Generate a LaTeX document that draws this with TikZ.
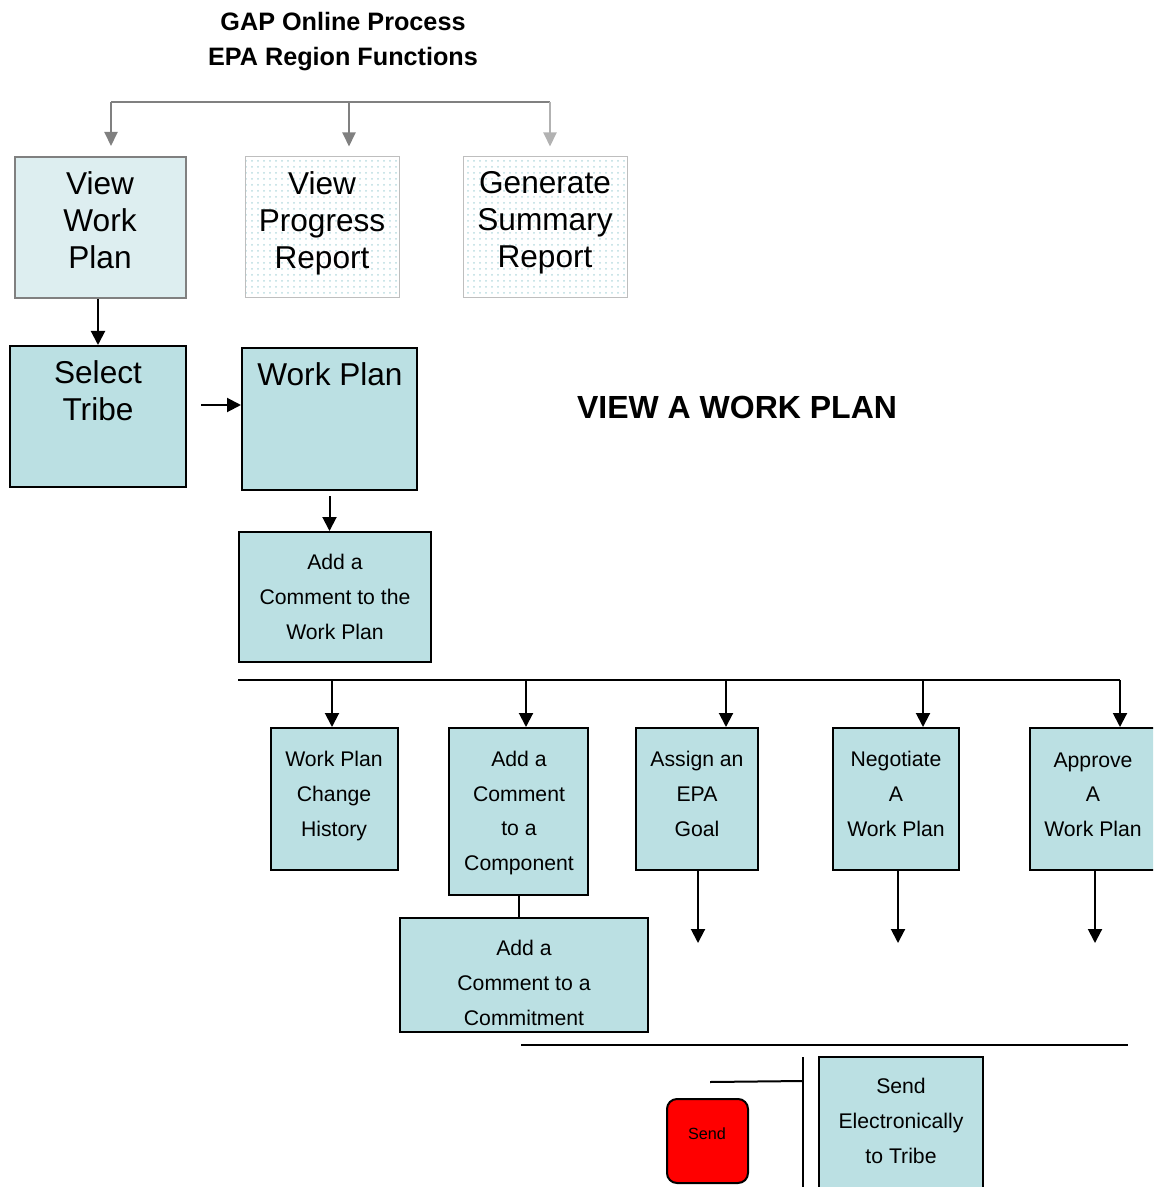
\documentclass[tikz,border=0pt]{standalone}
\usepackage{fontspec}
\setmainfont{Liberation Sans}
\usetikzlibrary{arrows.meta,patterns}
\definecolor{boxteal}{RGB}{187,224,227}
\definecolor{paleteal}{RGB}{221,238,240}
\definecolor{dotteal}{RGB}{185,220,224}
\definecolor{midgray}{RGB}{128,128,128}
\definecolor{lightgray}{RGB}{178,178,178}
\definecolor{framegray}{RGB}{190,190,190}
\definecolor{sendred}{RGB}{255,0,0}

\begin{document}
\begin{tikzpicture}[x=0.5pt,y=-0.5pt,
  box/.style={draw=black,line width=1pt,fill=boxteal,inner sep=0pt},
  dotbox/.style={draw=framegray,line width=0.5pt,pattern=dots,pattern color=dotteal,inner sep=0pt},
  bigtxt/.style={align=center,inner sep=0pt,font=\fontsize{15.8}{18.5}\selectfont},
  smalltxt/.style={align=center,inner sep=0pt,font=\fontsize{10.6}{17.3}\selectfont},
  arr/.style={-{Triangle[width=7pt,length=7pt]},line width=1pt},
  grayarr/.style={-{Triangle[width=6.5pt,length=7pt]},line width=1pt}]
    \clip (0,0) rectangle (1153,1187);
    % header
    \node[align=center,font=\bfseries\fontsize{12.6}{17.5}\selectfont] (title) at (343,42) {GAP Online Process\\EPA Region Functions};
    % top row
    \node[box,draw=midgray,fill=paleteal,minimum width=85.5pt,minimum height=70.5pt] (vwp) at (100.5,227.5) {};
    \node[bigtxt] (vwp-t) at (100,220.5) {View\\Work\\Plan};
    \node[dotbox,minimum width=77pt,minimum height=70.5pt] (vpr) at (322,227.5) {};
    \node[bigtxt] (vpr-t) at (322,223) {View\\Progress\\Report};
    \node[dotbox,minimum width=82pt,minimum height=70.5pt] (gsr) at (545,227.5) {};
    \node[bigtxt] (gsr-t) at (545,223) {Generate\\Summary\\Report};
    \coordinate (brL) at (111,102);
    \coordinate (brM) at (349,102);
    \coordinate (brR) at (550,102);
    \draw[midgray,line width=1pt] (brL) -- (brR);
    \draw[grayarr,midgray,shorten >=5pt] (brL) -- (brL |- vwp.north);
    \draw[grayarr,midgray,shorten >=5pt] (brM) -- (brM |- vpr.north);
    \draw[grayarr,lightgray,shorten >=5pt] (brR) -- (brR |- gsr.north);
    % view a work plan
    \node[box,minimum width=88pt,minimum height=70.5pt] (tribe) at (98,416.5) {};
    \node[bigtxt] (tribe-t) at (98,390.5) {Select\\Tribe};
    \node[box,minimum width=87.5pt,minimum height=71pt] (wp) at (329.5,419) {};
    \node[bigtxt] (wp-t) at (330,374) {Work Plan};
    \node[font=\bfseries\fontsize{16}{18}\selectfont] (heading) at (737,407) {VIEW A WORK PLAN};
    \node[box,minimum width=96pt,minimum height=65pt] (awp) at (335,597) {};
    \node[smalltxt] (awp-t) at (335,597) {Add a\\Comment to the\\Work Plan};
    \draw[arr] (tribe.north |- vwp.south) -- (tribe.north);
    \coordinate (tw) at ([shift={(14,-11.5)}]tribe.east);
    \draw[arr] (tw) -- (tw -| wp.west);
    \draw[arr] ([yshift=-2.5pt]wp.south) -- (wp.south |- awp.north);
    % functions
    \node[box,minimum width=63.5pt,minimum height=71pt] (hist) at (334.5,799) {};
    \node[smalltxt] (hist-t) at (334,796) {Work Plan\\Change\\History};
    \node[box,minimum width=69.5pt,minimum height=83.5pt] (comp) at (518.5,811.5) {};
    \node[smalltxt] (comp-t) at (519,813) {Add a\\Comment\\to a\\Component};
    \node[box,minimum width=61pt,minimum height=71pt] (goal) at (697,799) {};
    \node[smalltxt] (goal-t) at (697,794) {Assign an\\EPA\\Goal};
    \node[box,minimum width=63pt,minimum height=71pt] (neg) at (896,799) {};
    \node[smalltxt] (neg-t) at (896,794) {Negotiate\\A\\Work Plan};
    \node[box,minimum width=64pt,minimum height=71pt] (appr) at (1094,799) {};
    \node[smalltxt] (appr-t) at (1093,794.5) {Approve\\A\\Work Plan};
    \node[box,minimum width=124pt,minimum height=57pt] (commit) at (524,975) {};
    \node[smalltxt] (commit-t) at (524,983) {Add a\\Comment to a\\Commitment};
    \coordinate (busL) at (238,680);
    \coordinate (bus1) at (332,680);
    \coordinate (bus2) at (526,680);
    \coordinate (bus3) at (726,680);
    \coordinate (bus4) at (923,680);
    \coordinate (bus5) at (1120,680);
    \draw[line width=1pt] (busL) -- (bus5);
    \draw[arr] (bus1) -- (bus1 |- hist.north);
    \draw[arr] (bus2) -- (bus2 |- comp.north);
    \draw[arr] (bus3) -- (bus3 |- goal.north);
    \draw[arr] (bus4) -- (bus4 |- neg.north);
    \draw[arr] (bus5) -- (bus5 |- appr.north);
    \draw[line width=1pt] (comp.south) -- (comp.south |- commit.north);
    \coordinate (goalend) at (698,943);
    \coordinate (negend) at (898,943);
    \coordinate (apprend) at (1095,943);
    \draw[arr] (goalend |- goal.south) -- (goalend);
    \draw[arr] (negend |- neg.south) -- (negend);
    \draw[arr] (apprend |- appr.south) -- (apprend);
    % send
    \coordinate (lineL) at (521,1045);
    \coordinate (lineR) at (1128,1045);
    \draw[line width=1pt] (lineL) -- (lineR);
    \coordinate (vtop) at (803,1057);
    \coordinate (vbot) at (803,1195);
    \draw[line width=1pt] (vtop) -- (vbot);
    \coordinate (stub) at (710,1082);
    \draw[line width=1pt] (stub) -- (803,1081);
    \node[draw=black,line width=1pt,fill=sendred,rounded corners=5pt,minimum width=40.5pt,minimum height=42pt] (send) at (707.5,1141) {};
    \node[font=\fontsize{8.1}{10}\selectfont,inner sep=0pt] (send-t) at (707,1134) {Send};
    \node[box,minimum width=82pt,minimum height=71.5pt] (sete) at (901,1128.5) {};
    \node[smalltxt] (sete-t) at (901,1121) {Send\\Electronically\\to Tribe};
\end{tikzpicture}
\end{document}
